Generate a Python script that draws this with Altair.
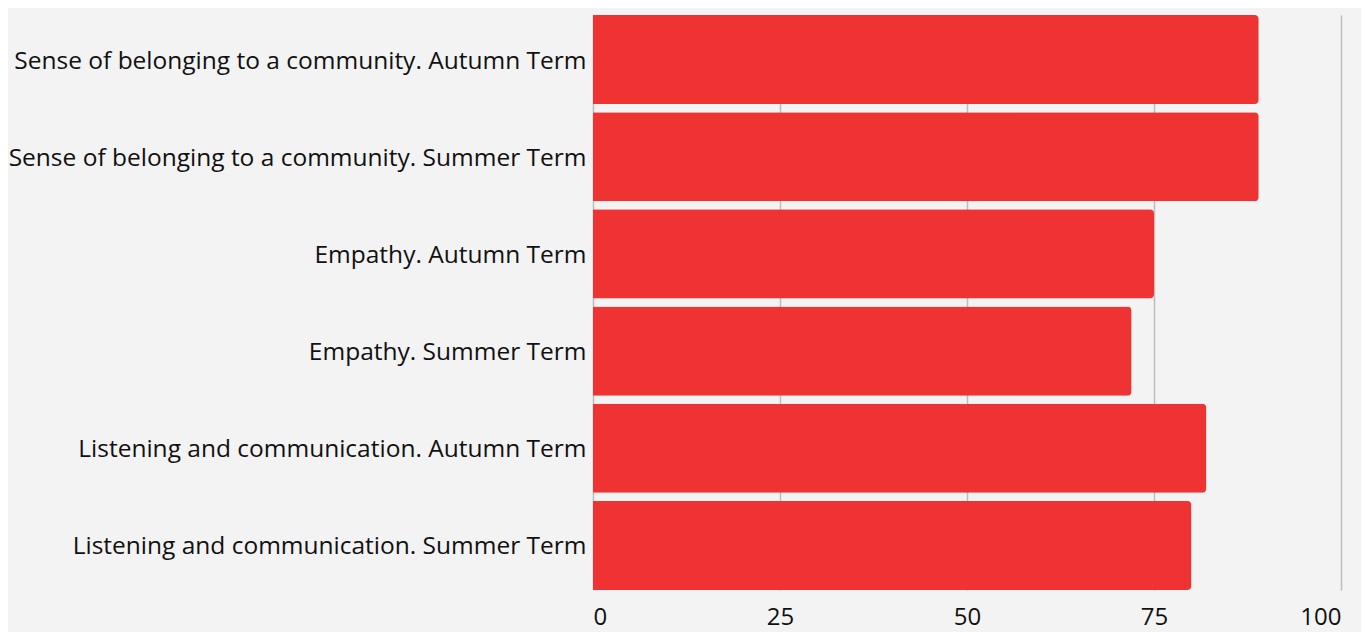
import altair as alt
import pandas as pd

categories = [
    "Sense of belonging to a community. Autumn Term",
    "Sense of belonging to a community. Summer Term",
    "Empathy. Autumn Term ",
    "Empathy. Summer Term ",
    "Listening and communication. Autumn Term",
    "Listening and communication. Summer Term",
]
values = [89, 89, 75, 72, 82, 80]
x_ticks = [0, 25, 50, 75, 100]

df = pd.DataFrame({"category": categories, "value": values})

chart = (
    alt.Chart(df)
    .mark_bar(color="#ef3333", cornerRadiusEnd=4)
    .encode(
        y=alt.Y(
            "category:N",
            sort=categories,
            scale=alt.Scale(paddingInner=0.083, paddingOuter=0),
            axis=alt.Axis(
                title=None,
                domain=False,
                ticks=False,
                grid=False,
                labelFontSize=24.5,
                labelFont="Open Sans",
                labelColor="#111111",
                labelPadding=7,
                labelLimit=700,
                labelOffset=2,
            ),
        ),
        x=alt.X(
            "value:Q",
            scale=alt.Scale(domain=[0, 100]),
            axis=alt.Axis(
                title=None,
                values=x_ticks,
                domain=False,
                ticks=False,
                grid=True,
                gridColor="#bdbdbd",
                gridWidth=1.5,
                labelFontSize=24,
                labelFont="Open Sans",
                labelColor="#111111",
                labelPadding=15,
            ),
        ),
    )
    .properties(
        width=748,
        height=575,
        background="#f3f3f3",
        autosize=alt.AutoSizeParams(type="none"),
        padding={"left": 585, "top": 7, "right": 20, "bottom": 42},
    )
    .configure_view(stroke=None)
)

chart.save("out.html", embed_options={"renderer": "svg", "actions": False})
